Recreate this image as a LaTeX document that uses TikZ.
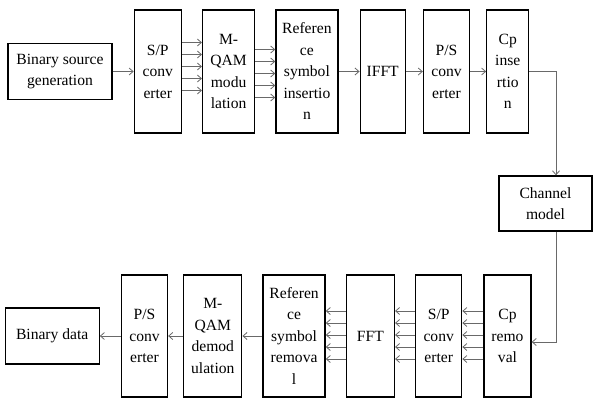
\documentclass[tikz,border=0pt]{standalone}
\usepackage{fontspec}
\setmainfont{Liberation Serif}
\usepackage{tikz}
\usetikzlibrary{positioning, arrows.meta, calc}
\definecolor{linkgray}{RGB}{105,105,105}

\begin{document}
\begin{tikzpicture}[x=1pt, y=-1pt, font=\fontsize{15.6}{21.5}\selectfont, node distance=20pt,
block/.style={rectangle, draw=black, line width=1.3pt, minimum height=123pt,
inner sep=0pt, align=center},
arrow/.style={-{Straight Barb[length=4pt,width=7pt]}, draw=linkgray, line width=0.8pt}
]
\useasboundingbox (0,0) rectangle (593,399);

% Transmitter
\node[block, minimum width=104pt, minimum height=56pt] (source) at (60,71.5)
{Binary source\\generation};
\node[block, minimum width=47pt, right=21pt of source] (spc) {S/P\\conv\\erter};
\node[block, minimum width=52pt, right=of spc] (mod) {M-\\QAM\\modu\\lation};
\node[block, minimum width=62pt, right=of mod] (refins)
{Referen\\ce\\symbol\\insertio\\n};
\node[block, minimum width=45pt, right=21pt of refins] (ifft) {IFFT};
\node[block, minimum width=46pt, right=17pt of ifft] (psc) {P/S\\conv\\erter};
\node[block, minimum width=42pt, right=16pt of psc] (cpins) {Cp\\inse\\rtio\\n};

% Channel
\node[block, minimum width=93pt, minimum height=55pt] (channel) at (545.5,203.5)
{Channel\\model};

% Receiver
\node[block, minimum width=47pt, minimum height=122pt] (cprem) at (507.5,336)
{Cp\\remo\\val};
\node[block, minimum width=46pt, minimum height=122pt, left=21pt of cprem] (spr)
{S/P\\conv\\erter};
\node[block, minimum width=48pt, minimum height=122pt, left=of spr] (fft) {FFT};
\node[block, minimum width=62pt, minimum height=122pt, left=of fft] (refrem)
{Referen\\ce\\symbol\\remova\\l};
\node[block, minimum width=58pt, minimum height=122pt, left=of refrem] (demod)
{M-\\QAM\\demod\\ulation};
\node[block, minimum width=46pt, minimum height=122pt, left=15pt of demod] (psr)
{P/S\\conv\\erter};
\node[block, minimum width=94pt, minimum height=56pt, left=21pt of psr] (sink)
{Binary data};

% Arrows
\draw[arrow] (source) -- (spc);
\foreach \d in {-24,-12,0,12,24}
  \draw[arrow] ($(spc.east)+(0,{\d-5})$) -- ($(mod.west)+(0,{\d-5})$);
\foreach \d in {-24,-12,0,12,24}
  \draw[arrow] ($(mod.east)+(0,{\d+2})$) -- ($(refins.west)+(0,{\d+2})$);
\draw[arrow] (refins) -- (ifft);
\draw[arrow] (ifft) -- (psc);
\draw[arrow] (psc) -- (cpins);
\draw[arrow] (cpins.east) -| ($(channel.north)+(10.5,0)$);
\draw[arrow] ($(channel.south)+(10.5,0)$) |- ($(cprem.east)+(0,6)$);
\foreach \d in {-24,-12,0,12,24} {
  \draw[arrow] ($(cprem.west)+(0,{\d-1})$) -- ($(spr.east)+(0,{\d-1})$);
  \draw[arrow] ($(spr.west)+(0,{\d-1})$) -- ($(fft.east)+(0,{\d-1})$);
  \draw[arrow] ($(fft.west)+(0,{\d-1})$) -- ($(refrem.east)+(0,{\d-1})$);
}
\draw[arrow] (refrem) -- (demod);
\draw[arrow] (demod) -- (psr);
\draw[arrow] (psr) -- (sink);

\end{tikzpicture}
\end{document}
